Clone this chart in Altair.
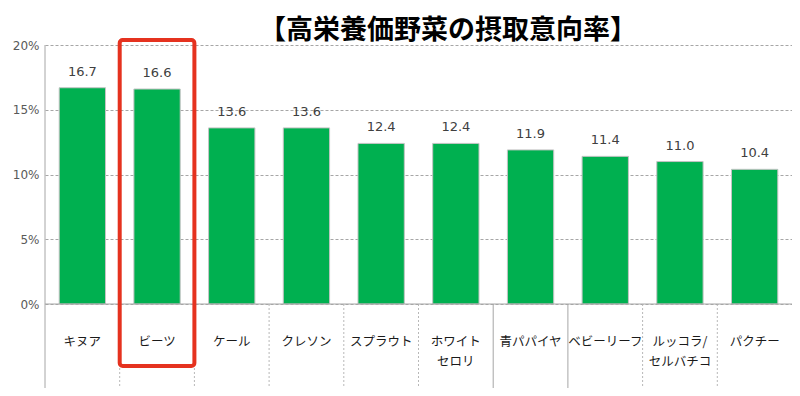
import altair as alt
import pandas as pd

categories = ["キヌア", "ビーツ", "ケール", "クレソン", "スプラウト", "ホワイト\nセロリ",
              "青パパイヤ", "ベビーリーフ", "ルッコラ/\nセルバチコ", "パクチー"]
values = [16.7, 16.6, 13.6, 13.6, 12.4, 12.4, 11.9, 11.4, 11.0, 10.4]
highlight = ["ビーツ"]
title_text = ["【高栄養価野菜の摂取意向率】"]
y_ticks = [0, 5, 10, 15, 20]

df = pd.DataFrame({"cat": categories, "val": values})
seps = pd.DataFrame({"cat": categories[1:]})
hl = pd.DataFrame({"cat": highlight})
tt = pd.DataFrame({"t": title_text})

W, H = 747, 259
BOTTOM = 343

xscale = alt.Scale(domain=categories, paddingInner=0, paddingOuter=0)
x = alt.X("cat:N", scale=xscale, axis=None, sort=categories)
yscale = alt.Scale(domain=[0, 20], nice=False)

yaxis = alt.Axis(values=y_ticks, labelExpr="datum.value + '%'", grid=True,
                 gridDash=[3, 2], gridColor="#a6a6a6", gridWidth=1,
                 domain=False, ticks=False, labelPadding=6, labelFontSize=12,
                 labelColor="#595959", labelFont="DejaVu Sans", title=None)

bars = alt.Chart(df).mark_bar(
    width=alt.RelativeBandSize(0.62), color="#00b050",
    stroke="#c4c4c4", strokeWidth=1
).encode(x=x, y=alt.Y("val:Q", scale=yscale, axis=yaxis))

vals = alt.Chart(df).mark_text(
    dy=-12, baseline="alphabetic", fontSize=13, font="DejaVu Sans", color="#404040"
).encode(x=x, y=alt.Y("val:Q", scale=yscale), text=alt.Text("val:Q", format=".1f"))

cats = alt.Chart(df).mark_text(
    lineBreak="\n", fontSize=12.5, font="Noto Sans CJK JP", color="#1a1a1a",
    baseline="middle", lineHeight=20
).encode(x=x, y=alt.value(297), text="cat:N")

sep_lines = alt.Chart(seps).mark_rule(strokeWidth=1).encode(
    x=alt.X("cat:N", scale=xscale, axis=None, sort=categories, bandPosition=0),
    y=alt.value(H), y2=alt.value(BOTTOM),
    color=alt.condition("datum.cat == '青パパイヤ' || datum.cat == 'ベビーリーフ'",
                        alt.value("#a6a6a6"), alt.value("#b8b8b8")),
    strokeDash=alt.condition("datum.cat == '青パパイヤ' || datum.cat == 'ベビーリーフ'",
                             alt.value([1, 0]), alt.value([2, 2])),
)

zero_line = alt.Chart(tt).mark_rule(color="#a6a6a6", strokeWidth=1).encode(
    x=alt.value(0), x2=alt.value(W), y=alt.value(H))
y_line = alt.Chart(tt).mark_rule(color="#a6a6a6", strokeWidth=1).encode(
    x=alt.value(0), y=alt.value(0), y2=alt.value(BOTTOM))

box = alt.Chart(hl).mark_rect(
    fillOpacity=0, stroke="#e5321f", strokeWidth=4, cornerRadius=3
).encode(x=x, y=alt.value(-5), y2=alt.value(321))

title = alt.Chart(tt).mark_text(
    font="Noto Sans CJK JP", fontWeight="bold", fontSize=27, color="#000000",
    baseline="middle", align="center"
).encode(text="t:N", x=alt.value(403), y=alt.value(-14))

chart = alt.layer(bars, vals, cats, sep_lines, zero_line, y_line, box, title).properties(
    width=W, height=H,
    autosize=alt.AutoSizeParams(type="none"),
    padding={"left": 37, "top": 37, "right": 0, "bottom": 84},
).configure_view(stroke=None)

chart.save("out.html", embed_options={"renderer": "svg", "actions": False})
